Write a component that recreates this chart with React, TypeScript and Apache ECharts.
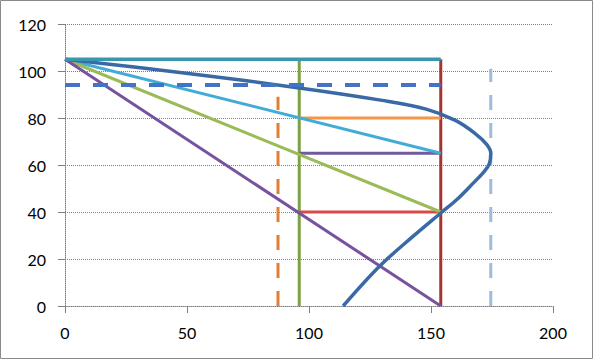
import React, { useEffect, useRef } from "react";
import * as echarts from "echarts";

// Axis ranges / ticks
const xTicks = [0, 50, 100, 150, 200];
const yTicks = [0, 20, 40, 60, 80, 100, 120];

// Straight reference lines (x, y pairs)
const topLevelX = [0, 154];
const topLevelY = [105, 105];
const greenVerticalX = [96, 96];
const greenVerticalY = [0, 105];
const redVerticalX = [154, 154];
const redVerticalY = [0, 105];
const blueDashX = [0, 154];
const blueDashY = [94, 94];
const orangeDashX = [87.3, 87.3];
const orangeDashY = [0, 89];
const lightBlueDashX = [174.5, 174.5];
const lightBlueDashY = [0, 101];
const aquaRayX = [0, 154];
const aquaRayY = [105, 65];
const greenRayX = [0, 154];
const greenRayY = [105, 40];
const purpleRayX = [0, 154];
const purpleRayY = [105, 0];
const orangeLevelX = [96, 154];
const orangeLevelY = [80, 80];
const purpleLevelX = [96, 154];
const purpleLevelY = [65, 65];
const redLevelX = [96, 154];
const redLevelY = [40, 40];

// Curved line
const curveX = [0, 48, 96, 130, 148, 160, 168, 172.8, 174.5, 173.9, 171.6, 167.5, 160.5, 154.5, 142.6, 129, 114];
const curveY = [105, 99.3, 92.8, 87.5, 83.8, 79, 73.5, 68.8, 65, 60.5, 57, 52.5, 45.2, 40, 29.6, 17, 0];

const zip = (xs: number[], ys: number[]) => xs.map((x, i) => [x, ys[i]]);

const gridColor = "#7f7f7f";
const font = "Lato";

function seg(name: string, xs: number[], ys: number[], color: string, width: number, dash?: number[], smooth?: number) {
  return {
    name,
    type: "line",
    data: zip(xs, ys),
    showSymbol: false,
    symbol: "none",
    smooth: smooth || false,
    lineStyle: { color, width, type: dash ? dash : "solid", cap: "butt" },
    silent: true,
  };
}

export default function App() {
  const ref = useRef<HTMLDivElement>(null);
  useEffect(() => {
    if (!ref.current) return;
    const chart = echarts.init(ref.current, undefined, { renderer: "svg" });
    chart.setOption({
      animation: false,
      backgroundColor: "#ffffff",
      textStyle: { fontFamily: font },
      grid: { left: 65, right: 41, top: 24, bottom: 54, containLabel: false },
      xAxis: {
        type: "value",
        min: xTicks[0],
        max: xTicks[xTicks.length - 1],
        interval: 50,
        axisLine: { show: true, lineStyle: { color: gridColor, width: 1, type: [1, 1] } },
        axisTick: { show: true, length: 7, inside: false, lineStyle: { color: gridColor } },
        axisLabel: { color: "#000", fontSize: 16, fontFamily: font, margin: 18 },
        splitLine: { show: false },
      },
      yAxis: {
        type: "value",
        min: yTicks[0],
        max: yTicks[yTicks.length - 1],
        interval: 20,
        axisLine: { show: true, lineStyle: { color: gridColor, width: 1, type: [1, 1] } },
        axisTick: { show: true, length: 7, inside: false, lineStyle: { color: gridColor } },
        axisLabel: { color: "#000", fontSize: 16, fontFamily: font, margin: 19 },
        splitLine: { show: true, lineStyle: { color: gridColor, width: 1, type: [1, 1] } },
      },
      graphic: [
        {
          type: "rect",
          shape: { x: 0.5, y: 0.5, width: 592, height: 358 },
          style: { fill: "none", stroke: "#8a8a8a", lineWidth: 1 },
          silent: true,
          z: 100,
        },
      ],
      series: [
        seg("greenVertical", greenVerticalX, greenVerticalY, "#7aa243", 3),
        seg("redVertical", redVerticalX, redVerticalY, "#a33430", 3),
        seg("orangeLevel", orangeLevelX, orangeLevelY, "#f79646", 3),
        seg("purpleLevel", purpleLevelX, purpleLevelY, "#6f5a9f", 3),
        seg("redLevel", redLevelX, redLevelY, "#d9484a", 3),
        seg("aquaRay", aquaRayX, aquaRayY, "#42acd6", 3),
        seg("greenRay", greenRayX, greenRayY, "#9bbb59", 3),
        seg("purpleRay", purpleRayX, purpleRayY, "#77529f", 3),
        seg("orangeDash", orangeDashX, orangeDashY, "#e07e34", 3, [15, 13]),
        seg("lightBlueDash", lightBlueDashX, lightBlueDashY, "#9cbbde", 3, [15, 13]),
        seg("curve", curveX, curveY, "#3a6aa5", 3.5, undefined, 0.35),
        seg("blueDash", blueDashX, blueDashY, "#4273c5", 4, [15, 13]),
        seg("topLevel", topLevelX, topLevelY, "#3797ad", 3.5),
      ],
    });
    return () => chart.dispose();
  }, []);
  return (
    <div
      ref={ref}
      style={{ position: "fixed", left: 0, top: 0, width: 594, height: 360 }}
    />
  );
}
